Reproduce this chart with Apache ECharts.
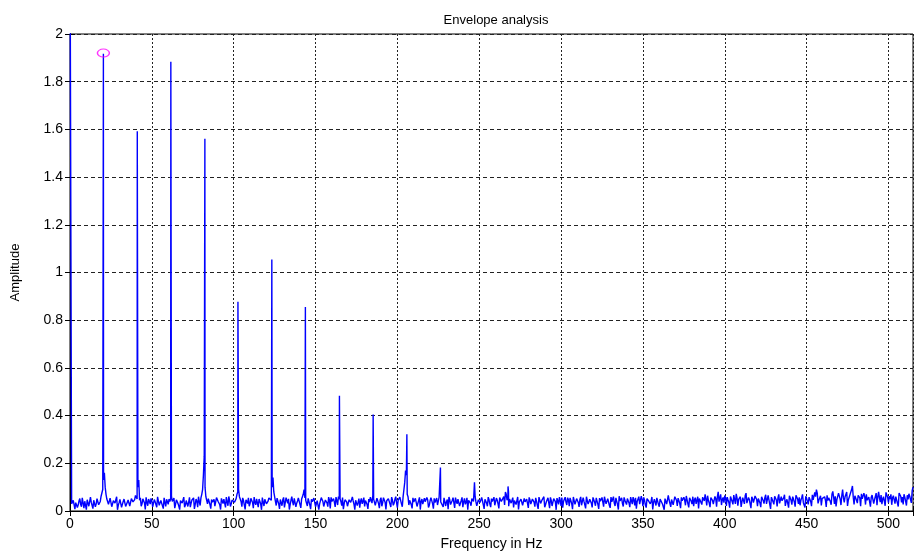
<!DOCTYPE html>
<html>
<head>
<meta charset="utf-8">
<script src="https://cdn.jsdelivr.net/npm/echarts@6/dist/echarts.min.js"></script>
<style>html,body{margin:0;padding:0;background:#fff;}#c{width:917px;height:556px;}</style>
</head>
<body>
<div id="c"></div>
<script>
// ---- data ----
const titleText = 'Envelope analysis';
const xName = 'Frequency in Hz';
const yName = 'Amplitude';
const xTicks = [0, 50, 100, 150, 200, 250, 300, 350, 400, 450, 500];
const yTicks = [0, 0.2, 0.4, 0.6, 0.8, 1, 1.2, 1.4, 1.6, 1.8, 2];
const xMax = 515;

// DC component (clipped at the top of the plot)
const dcHz = 0;
const dcAmp = 2.5;

// harmonic peaks of the envelope spectrum
const peakHz  = [20.4, 41.1, 61.6, 82.4, 102.6, 102.9, 123.3, 143.8, 164.6, 185.2, 205.8, 226.3, 247.1, 267.6, 267.9];
const peakAmp = [1.917, 1.592, 1.884, 1.561, 0.877, 0.877, 1.054, 0.855, 0.483, 0.405, 0.322, 0.182, 0.12, 0.103, 0.08];

// noise floor at whole Hz, from 1 Hz to 515 Hz
const noiseStartHz = 1;
const noise = [
.03,.045,.008,.038,.025,.052,.018,.034,.041,.006,.048,.027,.036,.01,.044,.03,.055,.02,.062,.09,
.16,.07,.045,.03,.05,.012,.038,.047,.005,.035,.042,.028,.05,.019,.037,.044,.014,.058,.033,.065,
.05,.13,.055,.03,.048,.007,.036,.05,.029,.043,.012,.039,.016,.053,.031,.046,.01,.035,.049,.028,
.04,.06,.035,.012,.047,.031,.006,.052,.038,.016,.044,.019,.057,.033,.041,.009,.05,.016,.039,.055,
.09,.23,.06,.03,.045,.01,.037,.049,.017,.058,.034,.006,.042,.05,.015,.038,.061,.019,.046,.052,
.035,.07,.09,.05,.018,.044,.007,.039,.055,.031,.048,.012,.036,.051,.016,.043,.005,.037,.049,.03,
.041,.06,.045,.14,.06,.023,.052,.009,.04,.047,.015,.056,.032,.006,.045,.038,.053,.017,.042,.05,
.013,.06,.09,.045,.021,.048,.008,.039,.054,.018,.043,.006,.037,.05,.019,.046,.034,.058,.011,.04,
.052,.017,.044,.06,.05,.023,.008,.047,.038,.015,.055,.031,.042,.006,.049,.036,.014,.053,.04,.019,
.046,.009,.037,.051,.065,.045,.02,.043,.012,.056,.034,.048,.007,.039,.052,.017,.045,.033,.06,.014,
.041,.05,.018,.09,.17,.07,.025,.046,.011,.038,.053,.019,.044,.006,.05,.032,.039,.057,.015,.043,
.048,.01,.036,.054,.02,.06,.045,.017,.052,.039,.008,.047,.034,.056,.013,.041,.05,.021,.044,.016,
.053,.037,.005,.049,.022,.06,.045,.038,.014,.051,.035,.042,.009,.055,.02,.047,.016,.04,.058,.023,
.045,.011,.05,.037,.06,.08,.045,.02,.052,.04,.015,.048,.034,.007,.043,.055,.019,.038,.05,.013,
.046,.025,.057,.018,.041,.009,.053,.032,.047,.016,.039,.055,.012,.044,.026,.05,.005,.042,.058,.021,
.014,.049,.037,.056,.02,.043,.008,.051,.034,.045,.017,.059,.023,.04,.011,.052,.038,.046,.015,.054,
.022,.047,.009,.041,.057,.018,.044,.026,.051,.013,.039,.06,.021,.048,.006,.042,.055,.019,.045,.027,
.052,.016,.043,.058,.024,.01,.047,.029,.062,.02,.045,.014,.053,.036,.041,.007,.05,.023,.057,.018,
.044,.028,.005,.051,.025,.046,.017,.055,.03,.068,.021,.049,.012,.043,.058,.024,.047,.015,.052,.029,
.02,.056,.033,.011,.048,.027,.054,.07,.023,.045,.016,.05,.029,.061,.018,.08,.042,.025,.057,.065,
.021,.046,.014,.053,.028,.049,.072,.022,.044,.017,.056,.03,.075,.025,.048,.012,.051,.027,.06,.02,
.045,.016,.054,.031,.068,.023,.047,.009,.052,.028,.058,.019,.07,.026,.043,.055,.021,.049,.014,.062,
.027,.05,.018,.072,.03,.024,.056,.035,.015,.053,.028,.063,.02,.047,.078,.09,.032,.055,.023,.048,
.06,.017,.044,.051,.026,.082,.03,.019,.052,.068,.025,.09,.036,.058,.021,.049,.07,.105,.028,.055,
.033,.062,.02,.051,.075,.027,.046,.058,.018,.067,.031,.053,.024,.08,.037,.029,.06,.022,.072,.035,
.05,.026,.064,.031,.055,.019,.07,.036,.028,.058,.023,.049,.062,.034,.1
];

// noise floor at half Hz, from 1.5 Hz to 514.5 Hz
const halfStartHz = 1.5;
const noiseHalf = [
.022,.05,.035,.015,.042,.028,.055,.012,.037,.047,.02,.058,.031,.045,.017,.052,.026,.04,.07,.13,
.1,.05,.028,.054,.018,.043,.033,.06,.024,.049,.015,.04,.056,.027,.046,.021,.052,.038,.048,.06,
.1,.045,.02,.051,.034,.057,.022,.041,.053,.017,.048,.031,.059,.024,.044,.036,.055,.019,.042,.05,
.05,.04,.054,.029,.048,.02,.044,.033,.058,.025,.05,.037,.016,.046,.055,.028,.041,.06,.023,.07,
.15,.1,.045,.052,.027,.048,.035,.02,.056,.04,.026,.053,.031,.047,.058,.022,.044,.03,.054,.037,
.052,.08,.06,.04,.055,.025,.047,.032,.02,.053,.036,.058,.026,.043,.05,.029,.056,.021,.045,.038,
.055,.05,.1,.08,.04,.054,.03,.048,.022,.057,.035,.044,.051,.027,.06,.024,.047,.033,.055,.028,
.05,.07,.055,.038,.053,.026,.049,.034,.059,.021,.046,.03,.056,.04,.025,.052,.018,.045,.057,.032,
.037,.058,.025,.05,.04,.056,.031,.054,.02,.047,.036,.059,.028,.045,.023,.052,.041,.03,.056,.044,
.027,.05,.058,.033,.05,.024,.054,.031,.047,.02,.056,.037,.043,.052,.029,.058,.024,.049,.035,.046,
.058,.03,.06,.12,.15,.06,.045,.026,.055,.033,.048,.022,.057,.04,.029,.054,.036,.047,.024,.056,
.031,.053,.042,.025,.058,.038,.03,.055,.021,.048,.059,.027,.044,.035,.056,.03,.049,.02,.057,.039,
.028,.055,.045,.034,.052,.04,.06,.022,.047,.036,.057,.026,.049,.033,.058,.029,.052,.038,.024,.054,
.03,.056,.04,.048,.025,.07,.06,.05,.033,.056,.044,.027,.059,.038,.05,.024,.053,.031,.046,.057,
.029,.05,.037,.055,.024,.058,.032,.048,.06,.026,.045,.034,.057,.021,.052,.039,.054,.028,.043,.056,
.04,.058,.025,.046,.055,.031,.059,.028,.052,.036,.048,.024,.056,.043,.06,.029,.049,.033,.057,.037,
.055,.028,.054,.036,.049,.06,.03,.052,.024,.058,.045,.033,.055,.027,.062,.038,.031,.057,.04,.052,
.034,.058,.029,.046,.055,.04,.06,.031,.049,.057,.025,.052,.042,.03,.059,.036,.048,.055,.028,.05,
.058,.036,.052,.029,.065,.04,.048,.026,.06,.045,.054,.032,.057,.038,.046,.063,.03,.055,.041,.06,
.047,.03,.06,.052,.036,.058,.042,.05,.064,.033,.056,.045,.028,.052,.06,.039,.07,.048,.035,.055,
.058,.036,.061,.04,.067,.03,.055,.049,.06,.038,.05,.065,.033,.057,.044,.06,.035,.063,.048,.052,
.034,.06,.043,.056,.03,.065,.05,.058,.039,.062,.046,.055,.032,.06,.05,.068,.04,.057,.064,.045,
.06,.038,.066,.05,.057,.045,.07,.036,.062,.048,.058,.04,.068,.055,.06,.075,.046,.064,.052,.06,
.045,.066,.055,.04,.07,.058,.062,.048,.075,.05,.065,.055,.06,.08,.046,.068,.09,.058,.064,.05,
.066,.055,.072,.045,.06,.07,.052,.064,.058,.068,.048,.075,.06,.055,.067,.05,.065,.078,.058,.062,
.07,.055,.068,.06,.052,.075,.062,.058,.07,.05,.066,.072,.06,.085
];

// marked peak
const markHz = 20.4;
const markAmp = 1.92;

// ---- build the plotted table ----
const table = [[dcHz, dcAmp]];
noise.forEach((v, i) => table.push([noiseStartHz + i, v]));
noiseHalf.forEach((v, i) => table.push([halfStartHz + i, v]));
peakHz.forEach((f, i) => table.push([f, peakAmp[i]]));
table.sort((a, b) => a[0] - b[0]);

const font = 'Liberation Sans, Arial, sans-serif';
const chart = echarts.init(document.getElementById('c'), null, {renderer: 'canvas'});
chart.setOption({
  animation: false,
  backgroundColor: '#fff',
  title: {
    text: titleText, left: 491, top: 9, textAlign: 'center',
    textStyle: {fontFamily: font, fontSize: 13, fontWeight: 'normal', color: '#000'}
  },
  grid: {left: 70, right: 4, top: 34, bottom: 38, show: true, borderColor: '#000', borderWidth: 1, backgroundColor: '#fff'},
  xAxis: [{
    type: 'value', min: 0, max: xMax, interval: 50,
    name: xName, nameLocation: 'middle', nameGap: 26,
    nameTextStyle: {fontFamily: font, fontSize: 14, color: '#000'},
    axisLine: {show: true, lineStyle: {color: '#000', width: 1}},
    axisTick: {show: true, inside: true, length: 5, lineStyle: {color: '#000'}},
    axisLabel: {fontFamily: font, fontSize: 14, color: '#000', margin: 6,
      customValues: xTicks},
    splitLine: {show: true, lineStyle: {color: '#222', type: [2, 2], width: 1}}
  }, {
    type: 'value', min: 0, max: xMax, interval: 50, position: 'top',
    axisLine: {show: true, lineStyle: {color: '#000'}},
    axisTick: {show: true, inside: true, length: 5, lineStyle: {color: '#000'}},
    axisLabel: {show: false}, splitLine: {show: false}
  }],
  yAxis: [{
    type: 'value', min: 0, max: 2, interval: 0.2,
    name: yName, nameLocation: 'middle', nameGap: 48, nameRotate: 90,
    nameTextStyle: {fontFamily: font, fontSize: 13, color: '#000'},
    axisLine: {show: true, lineStyle: {color: '#000', width: 1}},
    axisTick: {show: true, inside: true, length: 5, lineStyle: {color: '#000'}},
    axisLabel: {fontFamily: font, fontSize: 14, color: '#000', margin: 7,
      customValues: yTicks},
    splitLine: {show: true, lineStyle: {color: '#222', type: [4, 3], width: 1}}
  }, {
    type: 'value', min: 0, max: 2, interval: 0.2, position: 'right',
    axisLine: {show: true, lineStyle: {color: '#000'}},
    axisTick: {show: true, inside: true, length: 5, lineStyle: {color: '#000'}},
    axisLabel: {show: false}, splitLine: {show: false}
  }],
  series: [{
    type: 'line', data: table, showSymbol: false, symbol: 'none', clip: true,
    lineStyle: {color: '#0000ff', width: 1.4, join: 'bevel'}, z: 10
  }, {
    type: 'scatter', data: [[markHz, markAmp]], symbol: 'circle', symbolSize: [12, 8],
    itemStyle: {color: 'rgba(0,0,0,0)', borderColor: '#ff00ff', borderWidth: 1.2}, z: 11
  }]
});
</script>
</body>
</html>
